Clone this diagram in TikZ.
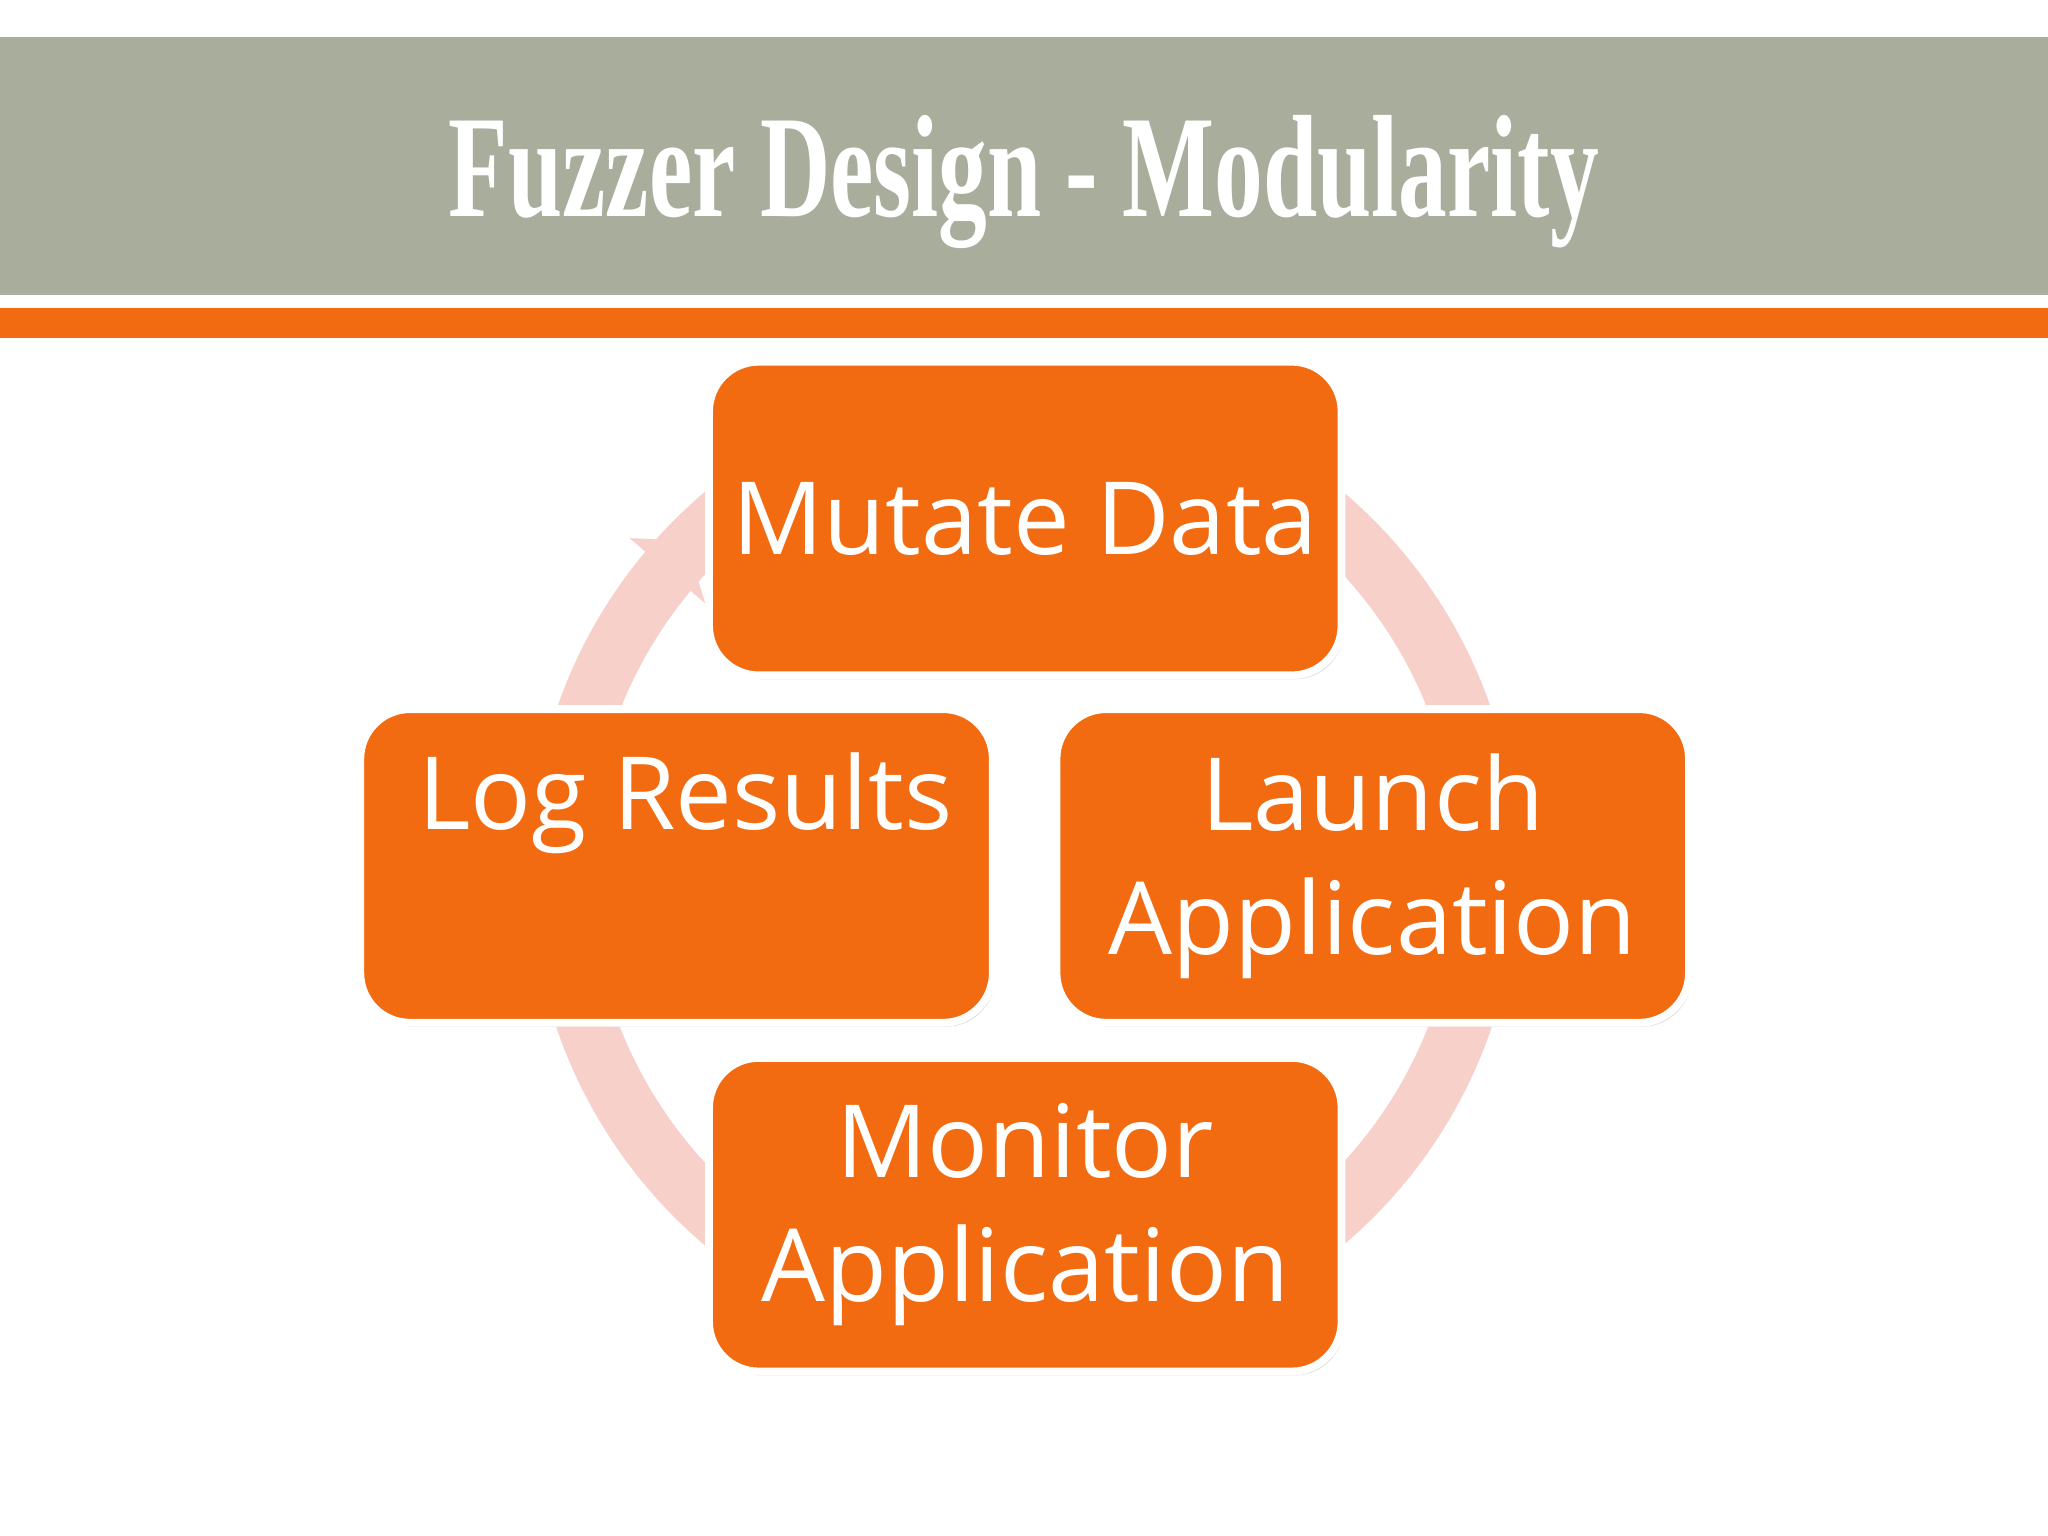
\documentclass[tikz,border=0pt]{standalone}
\usepackage{fontspec}
\setmainfont{Open Sans}
\newfontfamily\titlefont{Liberation Serif}
\usetikzlibrary{shadows}
\definecolor{band}{HTML}{A9AD9C}
\definecolor{orng}{HTML}{F26B10}
\definecolor{ring}{HTML}{F8D0CA}
\tikzset{
 card/.style={draw=white,line width=0.06cm,fill=orng,rounded corners=0.38cm,minimum width=4.84cm,minimum height=2.4cm,
   drop shadow={shadow xshift=0.02cm,shadow yshift=-0.03cm,fill=black!30,opacity=0.5},text=white,font=\fontsize{22}{27}\selectfont,align=center},
}
\begin{document}
\begin{tikzpicture}[x=0.01cm,y=-0.01cm]
\useasboundingbox (0,0) rectangle (1568,1176);
\fill[white] (0,0) rectangle (1568,1176);
\fill[band] (0,28) rectangle (1568,226);
\fill[orng] (0,236) rectangle (1568,259);
\node[text=white,inner sep=0] (title) at (784,139) {\resizebox*{8.8cm}{1.02cm}{\titlefont\bfseries Fuzzer Design - Modularity}};
% ring
\draw[ring,line width=0.36cm] (784,665) circle (0.36*1000 and 0.36*1000);
\draw[ring,line width=0.36cm] (784,665) circle [radius=3.5cm];
\coordinate (ah) at (530,420);
\fill[ring] (482,412) -- (525,414) -- (540,462) -- cycle;
\node[card] (mut) at (785,397) {Mutate Data};
\node[card,text width=4.3cm,align=left,anchor=center] (log) at (518,663) {};
\node[text=white,font=\fontsize{22}{27}\selectfont,anchor=base west] (logt) at (308,635) {Log Results};
\node[card] (lau) at (1051,663) {Launch\\Application};
\node[card] (mon) at (785,930) {Monitor\\Application};
\end{tikzpicture}
\end{document}
